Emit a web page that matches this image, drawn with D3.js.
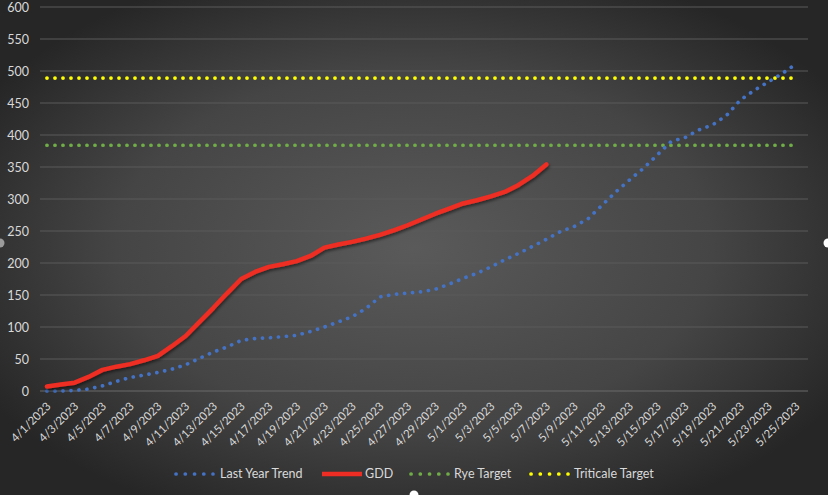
<!DOCTYPE html>
<html>
<head>
<meta charset="utf-8">
<script src="https://cdn.jsdelivr.net/npm/d3@7"></script>
<style>
  html, body { margin: 0; padding: 0; background: #2b2b2b; }
  svg { display: block; }
</style>
</head>
<body>
<div id="chart"></div>
<script>
// categories: one per day, 4/1 .. 5/25
const dates = [
  '4/1/2023', '4/2/2023', '4/3/2023', '4/4/2023', '4/5/2023', '4/6/2023', '4/7/2023',
  '4/8/2023', '4/9/2023', '4/10/2023', '4/11/2023', '4/12/2023', '4/13/2023', '4/14/2023',
  '4/15/2023', '4/16/2023', '4/17/2023', '4/18/2023', '4/19/2023', '4/20/2023', '4/21/2023',
  '4/22/2023', '4/23/2023', '4/24/2023', '4/25/2023', '4/26/2023', '4/27/2023', '4/28/2023',
  '4/29/2023', '4/30/2023', '5/1/2023', '5/2/2023', '5/3/2023', '5/4/2023', '5/5/2023',
  '5/6/2023', '5/7/2023', '5/8/2023', '5/9/2023', '5/10/2023', '5/11/2023', '5/12/2023',
  '5/13/2023', '5/14/2023', '5/15/2023', '5/16/2023', '5/17/2023', '5/18/2023', '5/19/2023',
  '5/20/2023', '5/21/2023', '5/22/2023', '5/23/2023', '5/24/2023', '5/25/2023'
];

// last year's accumulated GDD
const lastYearTrend = [
  0, 0, 1, 3, 8, 15, 21, 25, 29, 34, 41, 51, 61, 69, 79, 82, 83, 85, 87, 93,
  100, 108, 116, 129, 147, 151, 153, 155, 159, 167, 176, 184, 194, 205, 215, 226, 237, 249, 257, 269,
  290, 311, 330, 348, 369, 390, 396, 408, 416, 431, 455, 470, 483, 496, 511
];

// this year's GDD (through 5/7)
const gdd = [
  7, 10, 13, 22, 33, 38, 42, 48, 55, 70, 86, 108, 130, 153, 175, 186, 194, 198, 203, 211,
  224, 229, 233, 238, 244, 251, 259, 268, 277, 285, 293, 298, 304, 311, 322, 336, 354
];

const ryeTarget = 384;
const triticaleTarget = 489;

const yTicks = [0, 50, 100, 150, 200, 250, 300, 350, 400, 450, 500, 550, 600];

const legendItems = ['Last Year Trend', 'GDD', 'Rye Target', 'Triticale Target'];

const W = 828, H = 495;
const font = 'Lato, "Open Sans", sans-serif';
const textColor = '#d9d9d9';

const svg = d3.select('#chart').append('svg')
  .attr('width', W)
  .attr('height', H);

const defs = svg.append('defs');
const grad = defs.append('radialGradient')
  .attr('id', 'bg')
  .attr('cx', '50%').attr('cy', '50%').attr('r', '60%');
grad.append('stop').attr('offset', '0%').attr('stop-color', '#5a5a5a');
grad.append('stop').attr('offset', '60%').attr('stop-color', '#454545');
grad.append('stop').attr('offset', '100%').attr('stop-color', '#262626');

const shadow = defs.append('filter').attr('id', 'shadow')
  .attr('x', '-10%').attr('y', '-10%').attr('width', '120%').attr('height', '130%');
shadow.append('feDropShadow')
  .attr('dx', 1).attr('dy', 2).attr('stdDeviation', 1.5)
  .attr('flood-color', '#000').attr('flood-opacity', 0.5);

svg.append('rect').attr('width', W).attr('height', H).attr('fill', 'url(#bg)');

const x = d3.scalePoint().domain(dates).range([40, 803]).padding(0.5);
const y = d3.scaleLinear().domain([0, 600]).range([391, 7]);

// gridlines
svg.append('g')
  .selectAll('line')
  .data(yTicks)
  .join('line')
  .attr('x1', 40).attr('x2', 808)
  .attr('y1', d => y(d)).attr('y2', d => y(d))
  .attr('stroke', d => d === 0 ? '#6a6a6a' : '#5a5a5a')
  .attr('stroke-width', 1);

// y axis labels
const yAxis = svg.append('g')
  .attr('transform', 'translate(30,0)')
  .call(d3.axisLeft(y).tickValues(yTicks).tickSize(0).tickPadding(1));
yAxis.select('.domain').remove();
yAxis.selectAll('text')
  .attr('fill', textColor)
  .style('font-family', font)
  .style('font-size', '12.5px');

// x axis labels, every other day
const xAxis = svg.append('g')
  .attr('transform', 'translate(0,391)')
  .call(d3.axisBottom(x).tickValues(dates.filter((d, i) => i % 2 === 0)).tickSize(0));
xAxis.select('.domain').remove();
xAxis.selectAll('text')
  .attr('fill', textColor)
  .style('font-family', font)
  .style('font-size', '11.5px')
  .attr('text-anchor', 'end')
  .attr('dy', 0)
  .attr('y', 0)
  .attr('transform', 'translate(4,16) rotate(-45)');

const line = d3.line()
  .x((d, i) => x(dates[i]))
  .y(d => y(d));

const dotted = (sel, color) => sel
  .attr('fill', 'none')
  .attr('stroke', color)
  .attr('stroke-width', 3.7)
  .attr('stroke-linecap', 'round')
  .attr('stroke-dasharray', '0.1 7.9');

// target lines
svg.append('line')
  .attr('x1', x(dates[0])).attr('x2', x(dates[dates.length - 1]))
  .attr('y1', y(ryeTarget)).attr('y2', y(ryeTarget))
  .call(dotted, '#70ad47');

svg.append('line')
  .attr('x1', x(dates[0])).attr('x2', x(dates[dates.length - 1]))
  .attr('y1', y(triticaleTarget)).attr('y2', y(triticaleTarget))
  .call(dotted, '#ffff00');

// last year trend
svg.append('path')
  .datum(lastYearTrend)
  .attr('d', line)
  .attr('stroke-linejoin', 'round')
  .call(dotted, '#4472c4');

// GDD
svg.append('path')
  .datum(gdd)
  .attr('d', line)
  .attr('fill', 'none')
  .attr('stroke', '#ee2d24')
  .attr('stroke-width', 4.5)
  .attr('stroke-linejoin', 'round')
  .attr('stroke-linecap', 'round')
  .attr('filter', 'url(#shadow)');

// legend
const legendY = 474;
const legendStyle = [
  { color: '#4472c4', dots: true, x0: 176, x1: 213, tx: 220 },
  { color: '#ee2d24', dots: false, x0: 322, x1: 362, tx: 365 },
  { color: '#70ad47', dots: true, x0: 411, x1: 448, tx: 454 },
  { color: '#ffff00', dots: true, x0: 531, x1: 568, tx: 574 }
];

const legend = svg.append('g');
legendItems.forEach((name, i) => {
  const s = legendStyle[i];
  const l = legend.append('line')
    .attr('x1', s.x0).attr('x2', s.x1)
    .attr('y1', legendY).attr('y2', legendY);
  if (s.dots) {
    l.attr('stroke', s.color)
      .attr('stroke-width', 3.7)
      .attr('stroke-linecap', 'round')
      .attr('stroke-dasharray', '0.1 9.15');
  } else {
    l.attr('stroke', s.color).attr('stroke-width', 4.5);
  }
  legend.append('text')
    .attr('x', s.tx).attr('y', legendY)
    .attr('dy', '0.35em')
    .attr('fill', textColor)
    .style('font-family', font)
    .style('font-size', '12.5px')
    .text(name);
});

// selection handles at the frame edges
const handles = [[0, 243, '#9a9a9a'], [828, 243, '#ffffff'], [414, 495, '#ffffff']];
svg.append('g')
  .selectAll('circle')
  .data(handles)
  .join('circle')
  .attr('cx', d => d[0]).attr('cy', d => d[1])
  .attr('r', 4.5)
  .attr('fill', d => d[2]);
</script>
</body>
</html>
